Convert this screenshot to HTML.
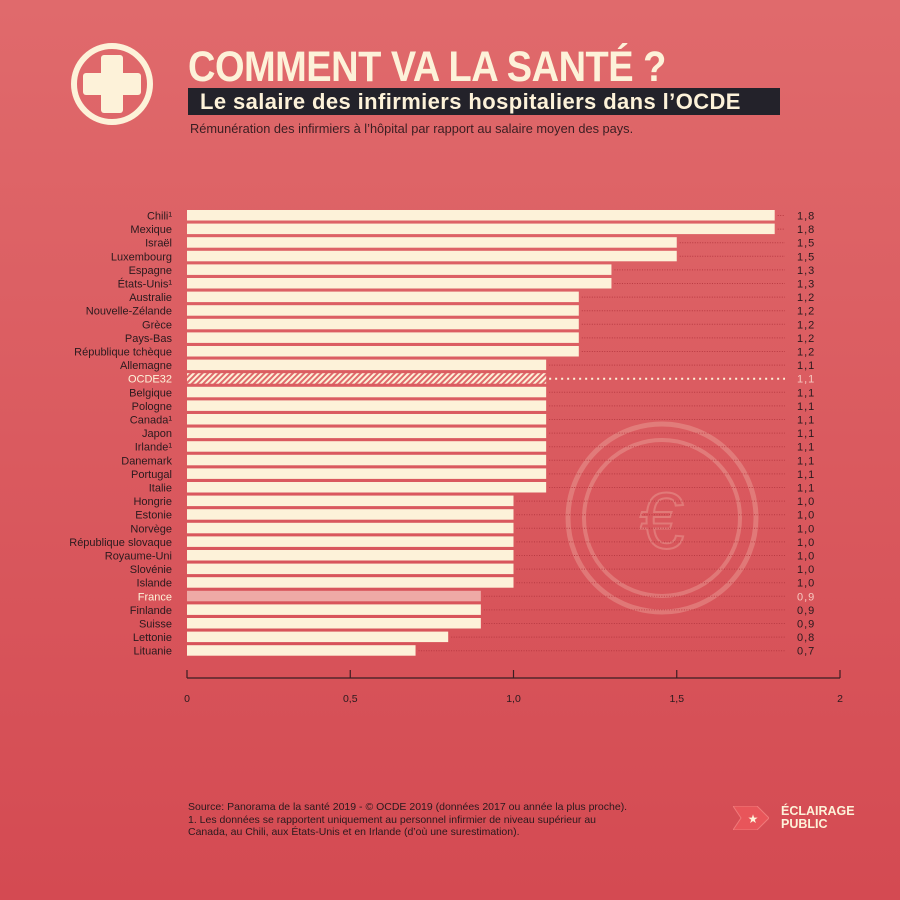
<!DOCTYPE html>
<html><head><meta charset="utf-8"><style>
body{margin:0;width:900px;height:900px;overflow:hidden;font-family:"Liberation Sans",sans-serif;}
#root{position:relative;width:900px;height:900px;background:linear-gradient(#e06a6c,#d44a52);}
.t{position:absolute;white-space:nowrap;}
</style></head><body>
<div id="root">
<svg style="position:absolute;left:68px;top:40px" width="88" height="88">
<circle cx="44" cy="44" r="38" fill="none" stroke="#fdf2d9" stroke-width="6"/>
<rect x="33" y="15" width="22" height="58" rx="3" fill="#fdf2d9"/><rect x="15" y="33" width="58" height="22" rx="3" fill="#fdf2d9"/>
</svg>
<div class="t" style="left:188px;top:44px;font-size:38px;font-weight:bold;color:#fdf2d9;letter-spacing:-0.5px;transform:scaleY(1.12);transform-origin:top left">COMMENT VA LA SANTÉ ?</div>
<div class="t" style="left:188px;top:88px;width:592px;height:27px;background:#23222a;color:#fdf2d9;font-size:22px;font-weight:bold;line-height:27px;padding-left:12px;box-sizing:border-box;letter-spacing:0.4px">Le salaire des infirmiers hospitaliers dans l’OCDE</div>
<div class="t" style="left:190px;top:121px;font-size:12.8px;color:#3a1e22">Rémunération des infirmiers à l’hôpital par rapport au salaire moyen des pays.</div>
<svg id="chart" style="position:absolute;left:0;top:0" width="900" height="900">
<defs><pattern id="hatch" width="4" height="4" patternUnits="userSpaceOnUse" patternTransform="rotate(45)"><rect width="4" height="4" fill="#e06a6c"/><rect width="2" height="4" fill="#fdf2d9"/></pattern></defs>
<g opacity="0.22" fill="none" stroke="#fdf2d9">
<circle cx="662" cy="518" r="94" stroke-width="5"/><circle cx="662" cy="518" r="78" stroke-width="4"/>
<text x="662" y="548" font-size="80" text-anchor="middle" fill="none" stroke="#fdf2d9" stroke-width="2" font-family="Liberation Sans">€</text>
</g>
</svg>
<div class="t" style="left:188px;top:801px;font-size:10.5px;color:#2a1a1e;line-height:12.5px">Source: Panorama de la santé 2019 - © OCDE 2019 (données 2017 ou année la plus proche).<br>1. Les données se rapportent uniquement au personnel infirmier de niveau supérieur au<br>Canada, au Chili, aux États-Unis et en Irlande (d’où une surestimation).</div>
<svg style="position:absolute;left:733px;top:806px" width="36" height="24"><path d="M0 0H24L36 12L24 24H0L8 12Z" fill="#e8555a" stroke="#f07a7a"/><text x="20" y="17" font-size="12" fill="#fdf2d9" text-anchor="middle">★</text></svg>
<div class="t" style="left:781px;top:805px;font-size:12.5px;font-weight:bold;color:#fdf2d9;line-height:13px">ÉCLAIRAGE<br>PUBLIC</div>
</div>
<script>
const countries=["Chili¹","Mexique","Israël","Luxembourg","Espagne","États-Unis¹","Australie","Nouvelle-Zélande","Grèce","Pays-Bas","République tchèque","Allemagne","OCDE32","Belgique","Pologne","Canada¹","Japon","Irlande¹","Danemark","Portugal","Italie","Hongrie","Estonie","Norvège","République slovaque","Royaume-Uni","Slovénie","Islande","France","Finlande","Suisse","Lettonie","Lituanie"];
const values=[1.8,1.8,1.5,1.5,1.3,1.3,1.2,1.2,1.2,1.2,1.2,1.1,1.1,1.1,1.1,1.1,1.1,1.1,1.1,1.1,1.1,1.0,1.0,1.0,1.0,1.0,1.0,1.0,0.9,0.9,0.9,0.8,0.7];
const ticks=[0,0.5,1,1.5,2];
const tickLabels=["0","0,5","1,0","1,5","2"];
const NS="http://www.w3.org/2000/svg";
const svg=document.getElementById('chart');
const x=v=>187+v*326.5;
const y=i=>210+i*13.6;
function mk(t,a,p){const e=document.createElementNS(NS,t);for(const k in a)e.setAttribute(k,a[k]);(p||svg).appendChild(e);return e;}
countries.forEach((c,i)=>{
  const v=values[i];const g=mk('g',{});
  
  
  const oc=c==="OCDE32",fr=c==="France";
  const r=mk('rect',{x:x(0),y:y(i),width:x(v)-x(0),height:10.5,fill:oc?'url(#hatch)':fr?'#eeaaa6':'#fdf2d9'},g);
  
  
  const l=mk('line',{x1:x(v)+3,x2:785,y1:y(i)+5.5,y2:y(i)+5.5,stroke:oc?'#fdf2d9':'#b83a42','stroke-width':oc?2:1,'stroke-dasharray':oc?'2,4':'1,1.5'},g);
  
  
  const lt=mk('text',{x:172,y:y(i)+9.5,'text-anchor':'end','font-size':11,fill:(oc||fr)?'#fdf2d9':'#2a1a1e'},g);lt.textContent=c;
  
  
  const vt=mk('text',{x:797,y:y(i)+9.5,'font-size':11,fill:(oc||fr)?'#f6c8c0':'#2a1a1e','letter-spacing':'1'},g);vt.textContent=v.toFixed(1).replace('.',',');
  
  
});
const ax=mk('line',{x1:x(0),x2:x(2),y1:678,y2:678,stroke:'#3a1e22','stroke-width':1.2});


ticks.forEach((t,i)=>{
  const tk=mk('line',{x1:x(t),x2:x(t),y1:670,y2:678,stroke:'#3a1e22','stroke-width':1.2});
  
  
  const tl=mk('text',{x:x(t),y:702,'text-anchor':'middle','font-size':10.5,fill:'#2a1a1e'});tl.textContent=tickLabels[i];
  
  
});
</script>
</body></html>
